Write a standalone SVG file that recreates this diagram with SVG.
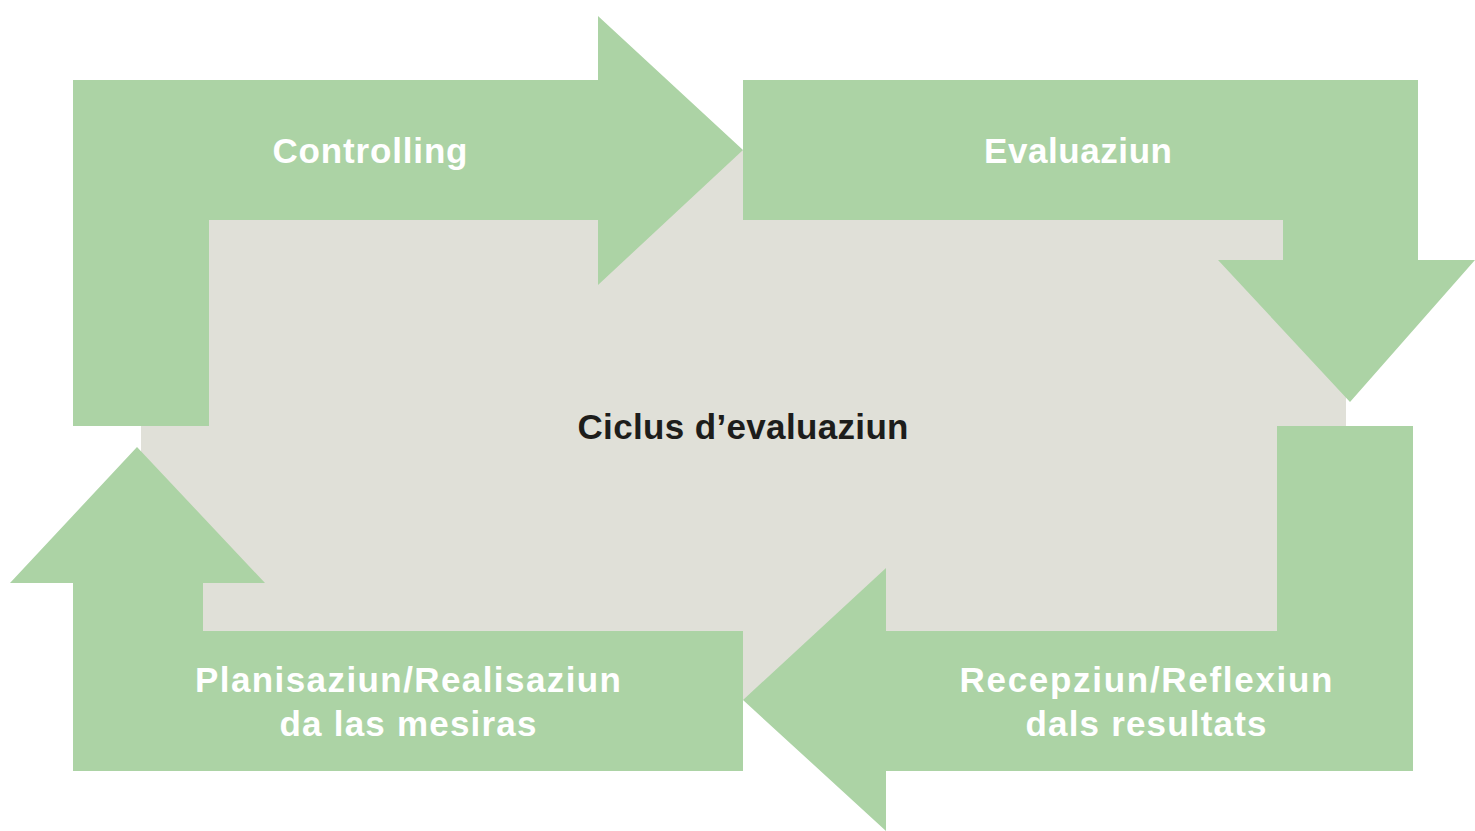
<svg xmlns="http://www.w3.org/2000/svg" width="1475" height="831" viewBox="0 0 1475 831">
<style>
.arr{fill:#acd3a5;}
.lbl{font-family:"Liberation Sans",Arial,sans-serif;font-weight:bold;font-size:35px;fill:#ffffff;text-anchor:middle;}
.ctr{font-family:"Liberation Sans",Arial,sans-serif;font-weight:bold;font-size:35px;fill:#1d1d1b;text-anchor:middle;}
</style>
<rect width="1475" height="831" fill="#ffffff"/>
<g id="center">
<rect x="141" y="150" width="1205" height="550" fill="#e0e0d8"/>
<text class="ctr" x="743" y="439" textLength="331" lengthAdjust="spacing">Ciclus d’evaluaziun</text>
</g>
<g id="connectors"></g>
<g id="controlling">
<polygon class="arr" points="73,80 598,80 598,16 743,150 598,285 598,220 209,220 209,426 73,426"/>
<text class="lbl" x="370" y="163" textLength="195" lengthAdjust="spacing">Controlling</text>
</g>
<g id="evaluaziun">
<polygon class="arr" points="743,80 1418,80 1418,260 1475,260 1350,402 1218,260 1283,260 1283,220 743,220"/>
<text class="lbl" x="1078" y="163" textLength="188" lengthAdjust="spacing">Evaluaziun</text>
</g>
<g id="recepziun">
<polygon class="arr" points="1277,426 1413,426 1413,771 886,771 886,831 743,700 886,568 886,631 1277,631"/>
<text class="lbl" x="1146" y="692" textLength="373" lengthAdjust="spacing">Recepziun/Reflexiun</text>
<text class="lbl" x="1146" y="736" textLength="241" lengthAdjust="spacing">dals resultats</text>
</g>
<g id="planisaziun">
<polygon class="arr" points="743,631 743,771 73,771 73,583 10,583 137,447 265,583 203,583 203,631"/>
<text class="lbl" x="408" y="692" textLength="426" lengthAdjust="spacing">Planisaziun/Realisaziun</text>
<text class="lbl" x="408" y="736" textLength="257" lengthAdjust="spacing">da las mesiras</text>
</g>
</svg>
